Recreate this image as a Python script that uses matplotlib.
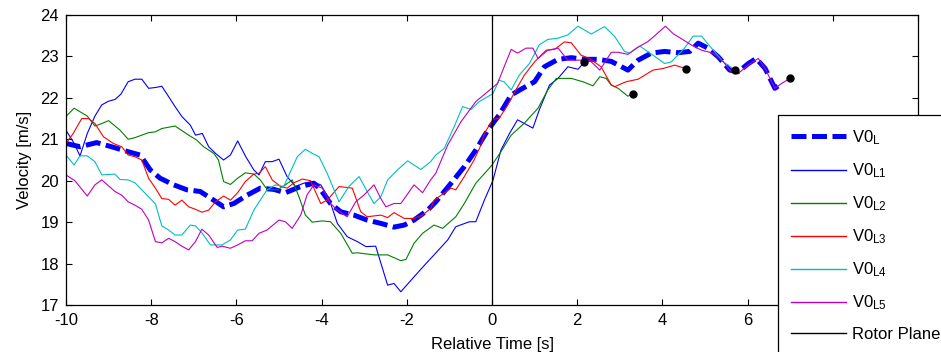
import matplotlib
matplotlib.use('Agg')
import matplotlib.pyplot as plt

plt.rcParams['font.family'] = ['Liberation Sans', 'DejaVu Sans']
plt.rcParams['mathtext.default'] = 'regular'

# lidar line-of-sight velocities, time relative to rotor plane passage
t_mean = [-10, -9.67, -9.28, -8.93, -8.54, -8.26, -8.02, -7.79, -7.47, -7.16, -6.85, -6.53, -6.3, -6.06,
          -5.75, -5.44, -5.12, -4.85, -4.49, -4.18, -4.02, -3.79, -3.55, -3.24, -2.93, -2.61, -2.3, -2.06,
          -1.83, -1.51, -1.32, -0.96, -0.65, -0.38, -0.1, 0.17, 0.45, 0.72, 1.0, 1.23, 1.55, 1.86, 2.17,
          2.49, 2.8, 3.19, 3.43, 3.74, 4.05, 4.37, 4.64, 4.84, 5.07, 5.31, 5.58, 5.78, 6.02, 6.2, 6.41,
          6.64, 6.8]
v_mean = [20.9, 20.82, 20.92, 20.82, 20.7, 20.62, 20.26, 20.06, 19.9, 19.78, 19.74, 19.53, 19.37, 19.45,
          19.65, 19.82, 19.79, 19.71, 19.86, 19.94, 19.78, 19.45, 19.25, 19.17, 19.05, 18.97, 18.88, 18.93,
          19.05, 19.29, 19.49, 19.94, 20.34, 20.74, 21.22, 21.59, 22.07, 22.23, 22.39, 22.75, 22.93, 22.97,
          22.93, 22.93, 22.88, 22.67, 22.91, 23.08, 23.12, 23.09, 23.12, 23.32, 23.2, 22.99, 22.67, 22.63,
          22.83, 22.95, 22.71, 22.23, 22.35]

t_l1 = [-10.0, -9.83, -9.67, -9.5, -9.32, -9.16, -9.0, -8.85, -8.71, -8.54, -8.38, -8.22, -8.06, -7.9,
        -7.75, -7.59, -7.44, -7.28, -7.08, -6.96, -6.8, -6.65, -6.49, -6.3, -6.14, -5.97, -5.78, -5.59,
        -5.47, -5.32, -5.16, -5.0, -4.81, -4.61, -4.42, -4.22, -4.02, -3.83, -3.63, -3.4, -3.16, -2.96,
        -2.73, -2.45, -2.3, -2.14, -1.83, -1.55, -1.36, -1.04, -0.85, -0.53, -0.38, -0.18, 0.02, 0.21,
        0.41, 0.6, 0.96, 1.11, 1.35, 1.55, 1.78, 2.02, 2.17]
v_l1 = [21.22, 20.94, 20.6, 21.14, 21.56, 21.83, 21.92, 21.96, 22.09, 22.39, 22.45, 22.45, 22.23, 22.25,
        22.28, 22.03, 21.79, 21.55, 21.34, 21.1, 21.14, 20.82, 20.66, 20.5, 20.62, 20.96, 20.58, 20.26,
        20.14, 20.46, 20.46, 20.52, 20.1, 19.86, 19.94, 19.98, 19.9, 19.58, 18.97, 18.65, 18.53, 18.41,
        18.42, 17.48, 17.52, 17.32, 17.68, 18.0, 18.21, 18.57, 18.89, 19.01, 19.01, 19.53, 20.0, 20.74,
        21.14, 21.47, 21.27, 21.71, 22.31, 22.47, 22.75, 22.69, 22.87]

t_l2 = [-10.0, -9.81, -9.5, -9.32, -9.16, -9.0, -8.73, -8.54, -8.38, -8.06, -7.9, -7.75, -7.44, -7.12,
        -6.93, -6.77, -6.53, -6.42, -6.3, -6.14, -5.97, -5.79, -5.59, -5.44, -5.28, -5.04, -4.85, -4.69,
        -4.53, -4.38, -4.22, -3.98, -3.79, -3.55, -3.28, -3.16, -2.77, -2.45, -2.14, -2.02, -1.83, -1.63,
        -1.36, -1.16, -0.85, -0.65, -0.38, -0.1, 0.0, 0.21, 0.45, 0.76, 1.08, 1.31, 1.51, 1.86, 2.13,
        2.37, 2.53, 2.68, 2.8, 2.96, 3.19, 3.31]
v_l2 = [21.55, 21.75, 21.56, 21.32, 21.38, 21.45, 21.22, 21.0, 21.04, 21.16, 21.18, 21.26, 21.32, 21.1,
        20.98, 20.82, 20.66, 20.5, 19.98, 19.91, 20.06, 20.19, 20.16, 20.02, 19.79, 19.78, 19.9, 20.02,
        19.61, 19.17, 19.0, 19.03, 19.01, 18.73, 18.25, 18.26, 18.21, 18.21, 18.07, 18.1, 18.49, 18.73,
        18.93, 18.85, 19.13, 19.45, 19.94, 20.26, 20.38, 20.7, 21.1, 21.39, 21.75, 22.19, 22.47, 22.47,
        22.39, 22.29, 22.51, 22.47, 22.31, 22.23, 22.04, 22.1]

t_l3 = [-10, -9.83, -9.63, -9.47, -9.32, -9.12, -8.89, -8.69, -8.54, -8.38, -8.22, -8.06, -7.9, -7.75,
        -7.59, -7.44, -7.28, -7.12, -6.96, -6.81, -6.65, -6.49, -6.3, -6.14, -5.97, -5.79, -5.59, -5.47,
        -5.32, -5.16, -4.96, -4.81, -4.65, -4.45, -4.26, -4.02, -3.87, -3.59, -3.28, -3.08, -2.93, -2.61,
        -2.45, -2.3, -2.06, -1.83, -1.63, -1.44, -1.36, -0.96, -0.85, -0.65, -0.42, -0.26, -0.18, 0.02,
        0.17, 0.37, 0.56, 0.76, 1.0, 1.27, 1.47, 1.7, 1.86, 2.09, 2.29, 2.56, 2.8, 2.88, 3.15, 3.43,
        3.78, 4.02, 4.29, 4.56]
v_l3 = [20.9, 21.14, 21.5, 21.5, 21.38, 21.06, 20.9, 20.82, 20.62, 20.58, 20.5, 20.06, 19.82, 19.57,
        19.55, 19.41, 19.53, 19.37, 19.31, 19.24, 19.29, 19.49, 19.63, 19.53, 19.71, 19.98, 20.16, 20.18,
        20.34, 20.02, 19.86, 19.82, 19.95, 20.04, 20.0, 19.45, 19.53, 19.86, 19.82, 19.25, 19.13, 19.17,
        19.11, 19.23, 19.09, 19.09, 19.17, 19.33, 19.53, 19.82, 19.78, 20.1, 20.5, 20.86, 21.14, 21.48,
        21.51, 21.83, 22.19, 22.55, 22.87, 23.15, 23.17, 23.35, 23.33, 23.03, 22.95, 22.75, 22.31, 22.27,
        22.39, 22.45, 22.67, 22.71, 22.79, 22.7]

t_l4 = [-10, -9.81, -9.67, -9.5, -9.32, -9.16, -8.85, -8.73, -8.54, -8.38, -8.06, -7.9, -7.75, -7.59,
        -7.44, -7.28, -7.08, -6.96, -6.8, -6.61, -6.34, -6.14, -5.97, -5.79, -5.59, -5.44, -5.28, -5.08,
        -4.89, -4.73, -4.57, -4.38, -4.22, -4.06, -3.87, -3.59, -3.36, -3.12, -2.93, -2.77, -2.61, -2.45,
        -2.22, -1.98, -1.67, -1.44, -1.32, -1.12, -0.89, -0.69, -0.49, -0.3, -0.1, 0.02, 0.17, 0.29, 0.45,
        0.64, 0.88, 1.11, 1.31, 1.55, 1.78, 2.02, 2.33, 2.64, 2.88, 3.11, 3.23, 3.47, 3.78, 4.05, 4.21,
        4.52, 4.72, 4.92, 5.15, 5.43, 5.7]
v_l4 = [20.62, 20.38, 20.6, 20.6, 20.46, 20.14, 20.16, 20.03, 20.02, 19.95, 19.61, 19.44, 18.91, 18.81,
        18.69, 18.69, 18.93, 18.91, 18.73, 18.45, 18.45, 18.57, 18.81, 18.83, 19.29, 19.53, 19.78, 19.9,
        19.86, 20.22, 20.58, 20.76, 20.66, 20.58, 20.18, 19.49, 19.86, 20.1, 19.74, 19.45, 19.61, 20.02,
        20.26, 20.48, 20.27, 20.46, 20.62, 20.78, 21.3, 21.79, 21.72, 21.91, 22.03, 22.1, 22.43, 22.38,
        22.19, 22.55, 22.83, 23.28, 23.41, 23.44, 23.52, 23.73, 23.54, 23.72, 23.48, 23.12, 23.08, 23.25,
        23.03, 22.83, 22.87, 23.2, 23.49, 23.49, 23.2, 22.87, 22.67]

t_l5 = [-10, -9.79, -9.5, -9.32, -9.16, -8.85, -8.69, -8.54, -8.38, -8.22, -8.06, -7.9, -7.75, -7.59,
        -7.44, -7.28, -7.12, -6.96, -6.81, -6.65, -6.45, -6.34, -6.14, -5.97, -5.79, -5.63, -5.47, -5.28,
        -5.0, -4.85, -4.69, -4.49, -4.34, -4.18, -3.98, -3.79, -3.63, -3.4, -3.2, -3.0, -2.77, -2.61,
        -2.49, -2.3, -2.14, -1.83, -1.63, -1.44, -1.32, -1.04, -0.73, -0.38, -0.1, 0.13, 0.45, 0.6, 0.8,
        0.96, 1.08, 1.31, 1.55, 1.78, 2.02, 2.29, 2.53, 2.8, 2.96, 3.19, 3.39, 3.66, 3.82, 4.07, 4.25,
        4.52, 4.72, 4.92, 5.19, 5.43, 5.6, 5.78, 6.02, 6.25, 6.41, 6.64, 6.8, 7.0]
v_l5 = [20.14, 20.0, 19.63, 19.9, 20.02, 19.74, 19.65, 19.49, 19.41, 19.31, 19.05, 18.53, 18.5, 18.61,
        18.53, 18.42, 18.33, 18.53, 18.83, 18.69, 18.39, 18.42, 18.37, 18.45, 18.55, 18.55, 18.73, 18.81,
        19.05, 19.01, 18.85, 19.17, 19.66, 19.9, 19.82, 19.45, 19.29, 19.13, 19.49, 19.66, 19.9, 19.57,
        19.37, 19.45, 19.45, 19.9, 19.71, 20.02, 20.18, 20.86, 21.42, 21.91, 22.15, 22.35, 23.17, 23.08,
        23.2, 23.2, 22.95, 23.15, 23.2, 22.91, 22.91, 22.91, 22.67, 23.1, 23.1, 23.05, 23.2, 23.36, 23.5,
        23.73, 23.55, 23.38, 23.25, 23.15, 23.08, 22.87, 22.65, 22.59, 22.8, 22.95, 22.71, 22.23, 22.35,
        22.47]

x_ticks = list(range(-10, 11, 2))
x_labels = ['-10', '-8', '-6', '-4', '-2', '0', '2', '4', '6', '', '']

fig = plt.figure(figsize=(9.41, 3.52), dpi=100)
ax = fig.add_axes([0.0701, 0.1335, 0.9055, 0.8239])

ax.plot(t_mean, v_mean, color='b', lw=3.6, ls=(0, (3.0, 1.1)), label='V0$_{L}$')
ax.plot(t_l1, v_l1, color='b', lw=0.8, label='V0$_{L1}$')
ax.plot(t_l2, v_l2, color=(0, 0.5, 0), lw=0.8, label='V0$_{L2}$')
ax.plot(t_l3, v_l3, color='r', lw=0.8, label='V0$_{L3}$')
ax.plot(t_l4, v_l4, color=(0, 0.75, 0.75), lw=0.8, label='V0$_{L4}$')
ax.plot(t_l5, v_l5, color=(0.75, 0, 0.75), lw=0.8, label='V0$_{L5}$')
ax.axvline(0, color='k', lw=0.9, label='Rotor Plane')

# mark where each line-of-sight series ends
for tt, vv in [(t_l1, v_l1), (t_l2, v_l2), (t_l3, v_l3), (t_l4, v_l4), (t_l5, v_l5)]:
    ax.plot(tt[-1], vv[-1], 'o', color='k', ms=5, zorder=4)

ax.set_xlim(-10, 10)
ax.set_ylim(17, 24)
ax.set_xticks(x_ticks)
ax.set_xticklabels(x_labels)
ax.set_yticks(range(17, 25))
ax.tick_params(direction='in', top=True, right=True, length=4, width=0.8, labelsize=12)
ax.tick_params(axis='x', pad=6)
ax.tick_params(axis='y', pad=5)
for s in ax.spines.values():
    s.set_linewidth(0.9)

ax.set_xlabel('Relative Time [s]', fontsize=12, labelpad=6)
ax.set_ylabel('Velocity [m/s]', fontsize=12, labelpad=6)

# legend box runs off the right and bottom edges of the figure
leg = ax.legend(loc='upper left', bbox_to_anchor=(0.8268, 0.0, 0.3, 0.6733), bbox_transform=fig.transFigure,
                mode='expand', borderaxespad=0, fontsize=12, frameon=True, fancybox=False, edgecolor='k',
                framealpha=1, handlelength=3.3, handletextpad=0.35, borderpad=0.8, labelspacing=0.86)
leg.get_frame().set_linewidth(0.9)
for h in leg.get_lines():
    if h.get_linewidth() < 1:
        h.set_linewidth(1.0)

plt.savefig('out.png', dpi=100)
plt.close()
